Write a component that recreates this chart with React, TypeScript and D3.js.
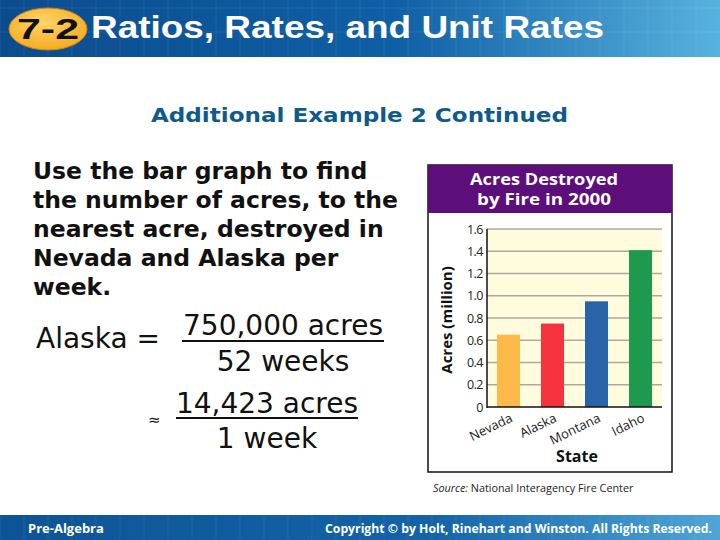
import React from "react";
import * as d3 from "d3";

const states = ["Nevada", "Alaska", "Montana", "Idaho"];
const acresMillion = [0.65, 0.75, 0.95, 1.41];
const barColors = ["#FDB94A", "#F6323F", "#2A64A8", "#1E9A50"];
const yTicks = [0, 0.2, 0.4, 0.6, 0.8, 1.0, 1.2, 1.4, 1.6];
const problemLines = [
  "Use the bar graph to find",
  "the number of acres, to the",
  "nearest acre, destroyed in",
  "Nevada and Alaska per",
  "week.",
];

export default function App() {
  const W = 720, H = 540;
  const plotL = 487, plotR = 662, plotT = 229, plotB = 407;
  const x = d3.scaleBand().domain(states).range([plotL, plotR]).paddingInner(0.477).paddingOuter(0.227);
  const y = d3.scaleLinear().domain([0, 1.6]).range([plotB, plotT]);
  const fmt = (d: number) => (d === 0 ? "0" : d3.format(".1f")(d));
  const headerFont = "'Liberation Sans', Arial, sans-serif";
  const bodyFont = "'DejaVu Sans', Verdana, sans-serif";
  const chartFont = "'Open Sans', 'Noto Sans', sans-serif";
  const gridCols = d3.range(0, 720, 24);

  return (
    <svg width={W} height={H} style={{ position: "absolute", left: 0, top: 0, background: "#fff" }}>
      <defs>
        <linearGradient id="hdr" x1="0" x2="1" y1="0" y2="0">
          <stop offset="0" stopColor="#0B4C8E" />
          <stop offset="0.55" stopColor="#0F5FA6" />
          <stop offset="1" stopColor="#58B2DE" />
        </linearGradient>
        <linearGradient id="ftr" x1="0" x2="1" y1="0" y2="0">
          <stop offset="0" stopColor="#0D5496" />
          <stop offset="0.6" stopColor="#1463A8" />
          <stop offset="1" stopColor="#4FA6D8" />
        </linearGradient>
        <radialGradient id="oval" cx="0.45" cy="0.35" r="0.7">
          <stop offset="0" stopColor="#FFD466" />
          <stop offset="1" stopColor="#F3A91C" />
        </radialGradient>
      </defs>

      {/* Header */}
      <rect x={0} y={0} width={W} height={57} fill="url(#hdr)" />
      {gridCols.map((gx) => (
        <line key={"hc" + gx} x1={gx} x2={gx} y1={0} y2={57} stroke="#fff" strokeOpacity={0.08} />
      ))}
      {[8, 32].map((gy) => (
        <line key={"hr" + gy} x1={0} x2={W} y1={gy} y2={gy} stroke="#fff" strokeOpacity={0.08} />
      ))}
      <ellipse cx={48} cy={29} rx={39} ry={21} fill="url(#oval)" stroke="#C98710" strokeWidth={1} />
      <text x={48} y={39} textAnchor="middle" fontFamily={headerFont} fontWeight="bold" fontSize={30} fill="#111" textLength={62} lengthAdjust="spacingAndGlyphs">7-2</text>
      <text x={91} y={38} fontFamily={headerFont} fontWeight="bold" fontSize={31} fill="#fff" textLength={513} lengthAdjust="spacingAndGlyphs">Ratios, Rates, and Unit Rates</text>

      {/* Subtitle */}
      <text x={151} y={122} fontFamily={bodyFont} fontWeight="bold" fontSize={20} fill="#0E5A8C" textLength={417} lengthAdjust="spacingAndGlyphs">Additional Example 2 Continued</text>

      {/* Problem text */}
      {problemLines.map((t, i) => (
        <text key={t} x={33} y={179 + i * 29} fontFamily={bodyFont} fontWeight="bold" fontSize={23.5} fill="#111">{t}</text>
      ))}

      {/* Equation */}
      <text x={36} y={348} fontFamily={bodyFont} fontSize={28} fill="#111">Alaska =</text>
      <text x={283} y={335} textAnchor="middle" fontFamily={bodyFont} fontSize={28} fill="#111">750,000 acres</text>
      <line x1={182} x2={384} y1={341} y2={341} stroke="#111" strokeWidth={2} />
      <text x={283} y={371} textAnchor="middle" fontFamily={bodyFont} fontSize={28} fill="#111">52 weeks</text>
      <text x={148} y={425} fontFamily={bodyFont} fontSize={15} fill="#111">≈</text>
      <text x={267} y={413} textAnchor="middle" fontFamily={bodyFont} fontSize={28} fill="#111">14,423 acres</text>
      <line x1={176} x2={358} y1={418} y2={418} stroke="#111" strokeWidth={2} />
      <text x={267} y={448} textAnchor="middle" fontFamily={bodyFont} fontSize={28} fill="#111">1 week</text>

      {/* Chart box */}
      <rect x={428} y={165} width={244} height={307} fill="#fff" stroke="#111" strokeWidth={1.5} />
      <rect x={428} y={165} width={244} height={48} fill="#5C0E7B" />
      <text x={544} y={185} textAnchor="middle" fontFamily={chartFont} fontWeight="bold" fontSize={15.5} fill="#fff" textLength={148} lengthAdjust="spacingAndGlyphs">Acres Destroyed</text>
      <text x={544} y={205} textAnchor="middle" fontFamily={chartFont} fontWeight="bold" fontSize={15.5} fill="#fff" textLength={134} lengthAdjust="spacingAndGlyphs">by Fire in 2000</text>

      <rect x={plotL} y={plotT} width={plotR - plotL} height={plotB - plotT} fill="#FFFCDD" />
      {yTicks.filter((d) => d > 0).map((d) => (
        <line key={"g" + d} x1={plotL} x2={plotR} y1={y(d)} y2={y(d)} stroke="#A9A9A4" strokeWidth={1.6} />
      ))}
      {states.map((s, i) => (
        <rect key={s} x={x(s)!} y={y(acresMillion[i])} width={x.bandwidth()} height={plotB - y(acresMillion[i])} fill={barColors[i]} />
      ))}
      <line x1={plotL} x2={plotL} y1={plotT} y2={plotB + 1} stroke="#111" strokeWidth={1.5} />
      <line x1={plotL} x2={plotR} y1={plotB} y2={plotB} stroke="#111" strokeWidth={1.5} />
      {yTicks.map((d) => (
        <text key={"t" + d} x={483} y={y(d) + 4.5} textAnchor="end" fontFamily={chartFont} fontSize={12.5} fill="#222" letterSpacing={-0.5}>{fmt(d)}</text>
      ))}
      {states.map((s) => {
        const cx = x(s)! + x.bandwidth() / 2 + 5;
        return (
          <text key={"x" + s} transform={`translate(${cx},${421}) rotate(-26)`} textAnchor="end" fontFamily={chartFont} fontSize={13} fill="#222">{s}</text>
        );
      })}
      <text transform={`translate(452,${(plotT + plotB) / 2 + 2}) rotate(-90)`} textAnchor="middle" fontFamily={chartFont} fontWeight="bold" fontSize={15} fill="#111">Acres (million)</text>
      <text x={577} y={462} textAnchor="middle" fontFamily={chartFont} fontWeight="bold" fontSize={16} fill="#111">State</text>

      <text x={433} y={492} fontFamily={chartFont} fontSize={10.8} fill="#222">
        <tspan fontStyle="italic">Source:</tspan> National Interagency Fire Center
      </text>

      {/* Footer */}
      <rect x={0} y={515} width={W} height={25} fill="url(#ftr)" />
      {gridCols.map((gx) => (
        <line key={"fc" + gx} x1={gx} x2={gx} y1={515} y2={540} stroke="#fff" strokeOpacity={0.07} />
      ))}
      <text x={28} y={533} fontFamily={chartFont} fontWeight="bold" fontSize={13} fill="#fff">Pre-Algebra</text>
      <text x={712} y={533} textAnchor="end" fontFamily={chartFont} fontWeight="bold" fontSize={12} fill="#fff" textLength={387} lengthAdjust="spacingAndGlyphs">Copyright © by Holt, Rinehart and Winston. All Rights Reserved.</text>
    </svg>
  );
}
